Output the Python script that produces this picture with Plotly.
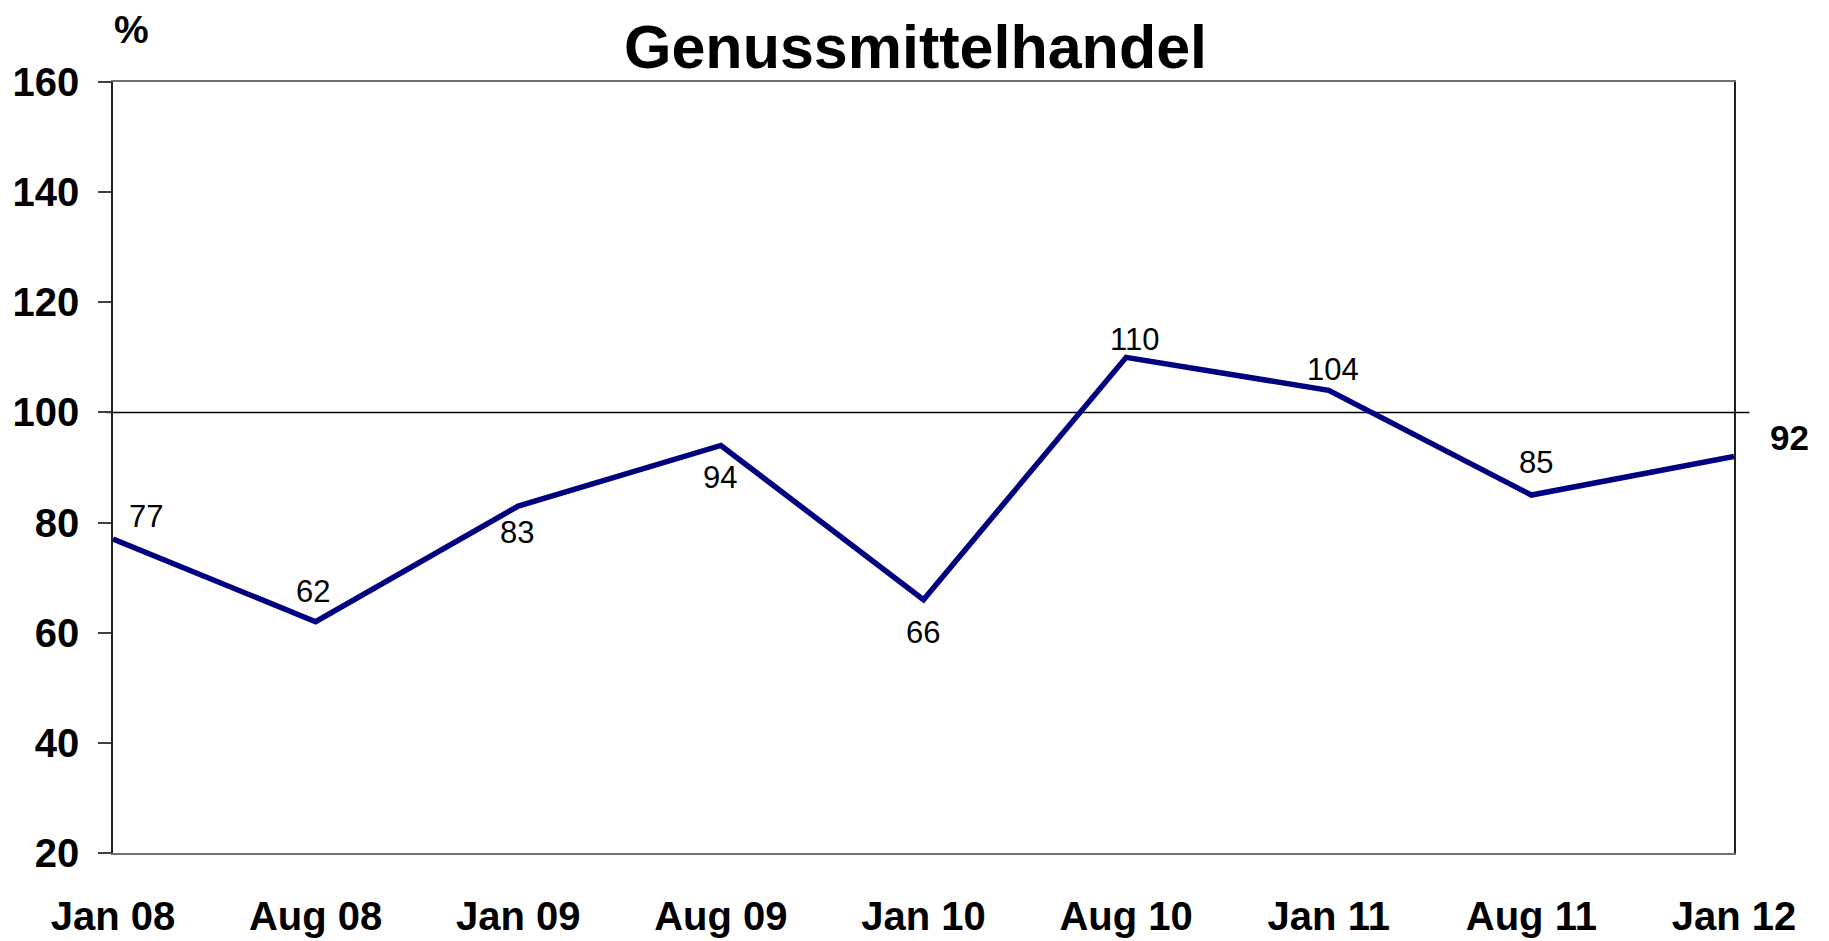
import plotly.graph_objects as go

# Survey periods and index values (%)
periods = ["Jan 08", "Aug 08", "Jan 09", "Aug 09", "Jan 10", "Aug 10", "Jan 11", "Aug 11", "Jan 12"]
values = [77, 62, 83, 94, 66, 110, 104, 85, 92]
y_ticks = [20, 40, 60, 80, 100, 120, 140, 160]

# pixel offsets of each value label relative to its point (last one is drawn bold, to the right)
label_dx = [33, -3, -1, -1, -1, 8, 4, 5, 55]
label_dy = [23, 30, -26, -32, -33, 18, 21, 33, 19]

FONT = "Arial, Liberation Sans, sans-serif"
LINE = "#000080"

fig = go.Figure()
fig.add_trace(go.Scatter(
    x=list(range(len(periods))), y=values, mode="lines",
    line=dict(color=LINE, width=5.5), hoverinfo="x+y", showlegend=False,
))

# reference line at 100, slightly wider than the plot area
fig.add_shape(type="line", xref="paper", yref="y", x0=-0.004, x1=1.0095, y0=100, y1=100,
              line=dict(color="black", width=1.5), layer="below")

for i, v in enumerate(values):
    last = i == len(values) - 1
    fig.add_annotation(
        x=i, y=v, text=f"<b>{v}</b>" if last else str(v), showarrow=False,
        xshift=label_dx[i], yshift=label_dy[i],
        font=dict(family=FONT, size=35 if last else 31, color="black"),
        xanchor="center", yanchor="middle",
    )

fig.add_annotation(xref="paper", yref="paper", x=0.4948, y=1.0454, text="<b>Genussmittelhandel</b>",
                   showarrow=False, xanchor="center", yanchor="middle",
                   font=dict(family=FONT, size=61, color="black"))
fig.add_annotation(xref="paper", yref="paper", x=0.0117, y=1.0687, text="<b>%</b>",
                   showarrow=False, xanchor="center", yanchor="middle",
                   font=dict(family=FONT, size=39, color="black"))

fig.update_xaxes(
    range=[0, len(periods) - 1], tickmode="array",
    tickvals=list(range(len(periods))), ticktext=[f"<b>{p}</b>" for p in periods],
    tickfont=dict(family=FONT, size=40, color="black"),
    showgrid=False, zeroline=False, ticks="", ticklabelstandoff=27, automargin=False,
    showline=True, linecolor="#707070", linewidth=1.5, mirror=True,
)
fig.update_yaxes(
    range=[20, 160], tickmode="array", tickvals=y_ticks,
    ticktext=[f"<b>{t}</b>" for t in y_ticks],
    tickfont=dict(family=FONT, size=40, color="black"),
    showgrid=False, zeroline=False, ticks="outside", ticklen=13, tickcolor="#404040", tickwidth=1.5,
    ticklabelstandoff=11, automargin=False,
    showline=True, linecolor="#202020", linewidth=1.5, mirror=True,
)

fig.update_layout(
    width=1829, height=941,
    margin=dict(l=113, r=95, t=82, b=88),
    paper_bgcolor="white", plot_bgcolor="white",
    font=dict(family=FONT, color="black"),
)

fig.write_html("out.html")
